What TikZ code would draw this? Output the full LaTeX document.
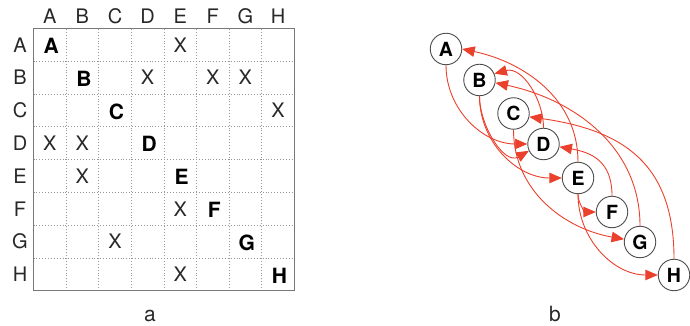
\documentclass[tikz,border=0pt]{standalone}
\usepackage{fontspec}
\setmainfont{TeX Gyre Heros}
\usetikzlibrary{arrows.meta}
\pgfdeclarelayer{bg}
\pgfsetlayers{bg,main}
\definecolor{edgered}{RGB}{234,64,44}
\definecolor{gridgray}{RGB}{150,150,150}
\definecolor{boxgray}{RGB}{120,120,120}
\definecolor{txt}{RGB}{40,40,40}
\tikzset{
  hdr/.style={inner sep=0pt, text=txt, font=\fontsize{20}{23}\selectfont},
  xmark/.style={inner sep=0pt, text=txt, font=\fontsize{20}{23}\selectfont},
  diag/.style={inner sep=0pt, text=black, font=\fontsize{21}{24}\selectfont\bfseries},
  gridline/.style={gridgray, line width=0.8pt, dash pattern=on 0.9pt off 2pt},
  boxline/.style={boxgray, line width=1pt},
  gnode/.style={circle, draw=black!70, line width=0.9pt, fill=white, minimum size=31.5pt, inner sep=0pt, font=\fontsize{19.5}{21}\selectfont\bfseries},
  edge/.style={edgered, line width=0.9pt, -{Triangle[length=12.5pt,width=10.5pt]}},
  caption/.style={inner sep=0pt, anchor=base, text=txt, font=\fontsize{21}{24}\selectfont}
}
\begin{document}
\begin{tikzpicture}[x=1pt,y=1pt]
\useasboundingbox (0,0) rectangle (690,326);
% ---------- matrix (a) ----------
\foreach \k in {1,...,7} {
  \draw[gridline] ({33.5+32.6*\k},35.1) -- ({33.5+32.6*\k},297.5);
  \draw[gridline] (33.5,{297.5-32.8*\k}) -- (294.3,{297.5-32.8*\k});
}
\draw[boxline] (33.5,35.1) rectangle (294.3,297.5);
\foreach \c [count=\j] in {A,B,C,D,E,F,G,H} {
  \node[hdr] (col\c) at ({33.5+32.6*(\j-0.5)},310) {\c};
  \node[hdr] (row\c) at (20,{297.5-32.8*(\j-0.5)}) {\c};
  \node[diag] (d\c) at ({35+32.6*(\j-0.5)},{296.5-32.8*(\j-0.5)}) {\c};
}
% X marks: (row, column)
\foreach \r/\c [count=\n] in {1/5, 2/4, 2/6, 2/7, 3/8, 4/1, 4/2, 5/2, 6/5, 7/3, 8/5} {
  \node[xmark] (x\n) at ({33.5+32.6*(\c-0.5)},{297.5-32.8*(\r-0.5)}) {X};
}
\node[caption] (capa) at (150,4) {a};
% ---------- graph (b) ----------
\node[gnode] (A) at (446,277) {A};
\node[gnode] (B) at (479.5,246) {B};
\node[gnode] (C) at (513.5,212.5) {C};
\node[gnode] (D) at (543.5,182) {D};
\node[gnode] (E) at (578,148) {E};
\node[gnode] (F) at (612,114) {F};
\node[gnode] (G) at (640,84) {G};
\node[gnode] (H) at (674,51) {H};
\node[caption] (capb) at (555,4) {b};
\begin{pgfonlayer}{bg}
\draw[edge] (E) to[out=90,in=-12] (A.east);
\draw[edge] (D) to[out=90,in=15] (B.23);
\draw[edge] (G) to[out=90,in=-12] (B.-10);
\draw[edge] (F) to[out=90,in=-10,looseness=1.2] (D.-10);
\draw[edge] (H) to[out=90,in=-8,looseness=1.2] (C.-12);
\draw[edge] (A) to[out=-90,in=180] (D.west);
\draw[edge] (B) to[out=-90,in=210] (D.205);
\draw[edge] (B) to[out=-90,in=180] (E.west);
\draw[edge] (C) to[out=-90,in=170] (G.170);
\draw[edge] (E) to[out=-90,in=180] (F.west);
\draw[edge] (E) to[out=-90,in=180] (H.west);
\end{pgfonlayer}
\end{tikzpicture}
\end{document}
